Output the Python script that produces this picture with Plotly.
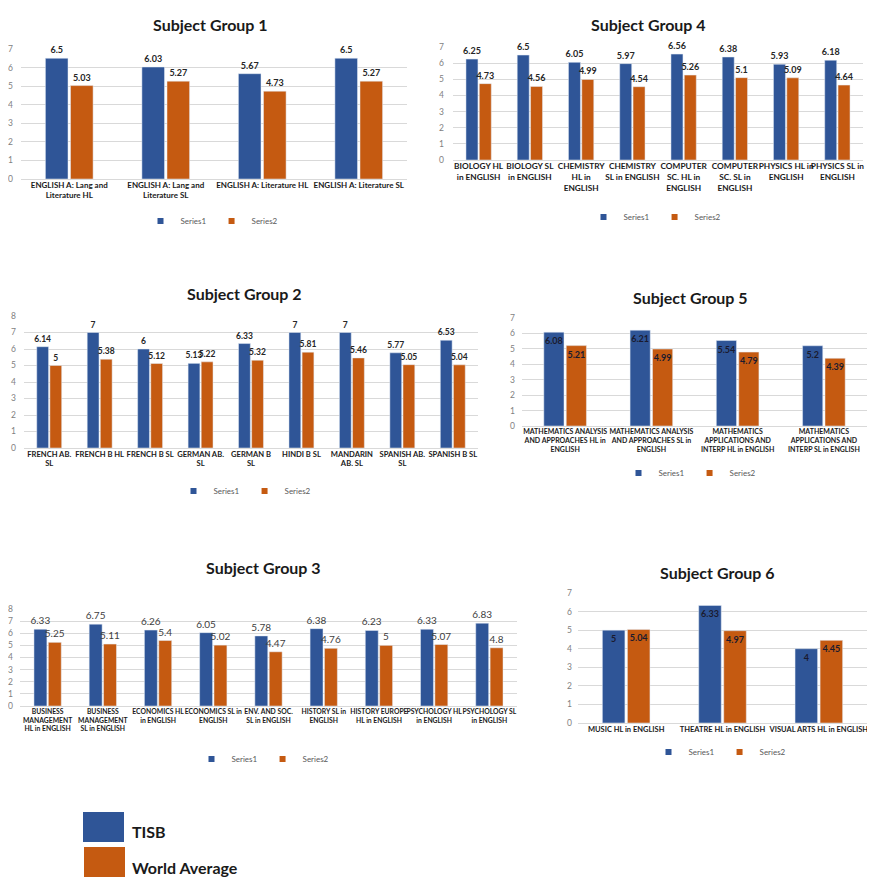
import plotly.graph_objects as go

# The page body has an 8px margin; the figure is sized to fit the 875x888 window exactly.
OFF = 8
FW, FH = 875 - 2 * OFF, 888 - 2 * OFF

# ---------------- data ----------------
g1_cats = ["ENGLISH A: Lang and<br>Literature HL", "ENGLISH A: Lang and<br>Literature SL",
           "ENGLISH A: Literature HL", "ENGLISH A: Literature SL"]
g1_tisb = [6.5, 6.03, 5.67, 6.5]
g1_world = [5.03, 5.27, 4.73, 5.27]

g4_cats = ["BIOLOGY HL<br>in ENGLISH", "BIOLOGY SL<br>in ENGLISH", "CHEMISTRY<br>HL in<br>ENGLISH",
           "CHEMISTRY<br>SL in ENGLISH", "COMPUTER<br>SC. HL in<br>ENGLISH", "COMPUTER<br>SC. SL in<br>ENGLISH",
           "PHYSICS HL in<br>ENGLISH", "PHYSICS SL in<br>ENGLISH"]
g4_tisb = [6.25, 6.5, 6.05, 5.97, 6.56, 6.38, 5.93, 6.18]
g4_world = [4.73, 4.56, 4.99, 4.54, 5.26, 5.1, 5.09, 4.64]

g2_cats = ["FRENCH AB.<br>SL", "FRENCH B HL", "FRENCH B SL", "GERMAN AB.<br>SL", "GERMAN B<br>SL",
           "HINDI B SL", "MANDARIN<br>AB. SL", "SPANISH AB.<br>SL", "SPANISH B SL"]
g2_tisb = [6.14, 7, 6, 5.13, 6.33, 7, 7, 5.77, 6.53]
g2_world = [5, 5.38, 5.12, 5.22, 5.32, 5.81, 5.46, 5.05, 5.04]

g5_cats = ["MATHEMATICS ANALYSIS<br>AND APPROACHES HL in<br>ENGLISH",
           "MATHEMATICS ANALYSIS<br>AND APPROACHES SL in<br>ENGLISH",
           "MATHEMATICS<br>APPLICATIONS AND<br>INTERP HL in ENGLISH",
           "MATHEMATICS<br>APPLICATIONS AND<br>INTERP SL in ENGLISH"]
g5_tisb = [6.08, 6.21, 5.54, 5.2]
g5_world = [5.21, 4.99, 4.79, 4.39]

g3_cats = ["BUSINESS<br>MANAGEMENT<br>HL in ENGLISH", "BUSINESS<br>MANAGEMENT<br>SL in ENGLISH",
           "ECONOMICS HL<br>in ENGLISH", "ECONOMICS SL in<br>ENGLISH", "ENV. AND SOC.<br>SL in ENGLISH",
           "HISTORY SL in<br>ENGLISH", "HISTORY EUROPE<br>HL in ENGLISH", "PSYCHOLOGY HL<br>in ENGLISH",
           "PSYCHOLOGY SL<br>in ENGLISH"]
g3_tisb = [6.33, 6.75, 6.26, 6.05, 5.78, 6.38, 6.23, 6.33, 6.83]
g3_world = [5.25, 5.11, 5.4, 5.02, 4.47, 4.76, 5, 5.07, 4.8]

g6_cats = ["MUSIC HL in ENGLISH", "THEATRE HL in ENGLISH", "VISUAL ARTS HL in ENGLISH"]
g6_tisb = [5, 6.33, 4]
g6_world = [5.04, 4.97, 4.45]

series_names = ["Series1", "Series2"]
titles = ["Subject Group 1", "Subject Group 4", "Subject Group 2",
          "Subject Group 5", "Subject Group 3", "Subject Group 6"]
legend_labels = ["TISB", "World Average"]

BLUE = "#2F5597"
ORANGE = "#C55A11"
FONT = "Lato"

# ---------------- layout of panels (window pixel boxes) ----------------
panels = [
    dict(cats=g1_cats, s1=g1_tisb, s2=g1_world, x=(21, 407), y=(179, 49), ymax=7,
         title=(210, 25), leg=(212, 221), inside=False, bold=True, standoff=7, xfs=8, dfs=9),
    dict(cats=g4_cats, s1=g4_tisb, s2=g4_world, x=(453, 863), y=(160, 47), ymax=7,
         title=(648, 25), leg=(655, 217), inside=False, bold=True, standoff=8, xfs=8.3, dfs=9),
    dict(cats=g2_cats, s1=g2_tisb, s2=g2_world, x=(24, 478), y=(448, 316), ymax=8,
         title=(245, 293), leg=(245, 491), inside=False, bold=True, standoff=7, xfs=7.6, dfs=8.5),
    dict(cats=g5_cats, s1=g5_tisb, s2=g5_world, x=(522, 867), y=(426, 318), ymax=7,
         title=(690, 298), leg=(690, 473), inside=True, bold=True, standoff=6, xfs=7, dfs=9),
    dict(cats=g3_cats, s1=g3_tisb, s2=g3_world, x=(20, 517), y=(706, 609), ymax=8,
         title=(263, 567), leg=(263, 759), inside=False, bold=False, standoff=6, xfs=6.8, dfs=10),
    dict(cats=g6_cats, s1=g6_tisb, s2=g6_world, x=(578, 867), y=(723, 593), ymax=7,
         title=(717, 572), leg=(720, 752), inside=True, bold=True, standoff=5, xfs=7.5, dfs=9),
]

def px(x):
    return (x - OFF) / FW

def py(y):
    return 1 - (y - OFF) / FH

fig = go.Figure()
layout = {}
annotations = []

for i, p in enumerate(panels, 1):
    sfx = "" if i == 1 else str(i)
    xa, ya, lg = "x" + sfx, "y" + sfx, "legend" + sfx
    for vals, name, col in ((p["s1"], series_names[0], BLUE), (p["s2"], series_names[1], ORANGE)):
        if p["inside"]:
            tp = dict(textposition="inside", insidetextanchor="end", textangle=0,
                      constraintext="none",
                      textfont=dict(family=FONT, size=p["dfs"], color="#1a1a2e", weight="bold"))
        else:
            tp = dict(textposition="outside", textangle=0, constraintext="none",
                      textfont=dict(family=FONT, size=p["dfs"],
                                    color="#262626" if p["bold"] else "#404040",
                                    weight="bold" if p["bold"] else "normal"))
        fig.add_trace(go.Bar(x=p["cats"], y=vals, name=name, marker_color=col,
                             xaxis=xa, yaxis=ya, showlegend=False, texttemplate="%{y}",
                             cliponaxis=False, **tp))
    # small square legend entries (Excel-style)
    for name, col in ((series_names[0], BLUE), (series_names[1], ORANGE)):
        fig.add_trace(go.Scatter(x=[None], y=[None], mode="markers", name=name,
                                 marker=dict(symbol="square", size=6, color=col),
                                 xaxis=xa, yaxis=ya, legend=lg, showlegend=True))
    layout["xaxis" + sfx] = dict(domain=[px(p["x"][0]), px(p["x"][1])], anchor=ya,
                                 showgrid=False, showline=False, zeroline=False,
                                 tickangle=0, ticks="", fixedrange=True, automargin=False,
                                 tickfont=dict(family=FONT, size=p["xfs"], color="#1a1a1a",
                                               weight="bold"))
    layout["yaxis" + sfx] = dict(domain=[py(p["y"][0]), py(p["y"][1])], anchor=xa,
                                 range=[0, p["ymax"]], dtick=1, showgrid=True,
                                 gridcolor="#d9d9d9", gridwidth=1, zeroline=True,
                                 zerolinecolor="#d9d9d9", zerolinewidth=1, showline=False,
                                 ticks="", ticklabelstandoff=p["standoff"], automargin=False,
                                 fixedrange=True,
                                 tickfont=dict(family=FONT, size=8.5, color="#7f7f7f"))
    layout[lg] = dict(orientation="h", x=px(p["leg"][0]), y=py(p["leg"][1]),
                      xanchor="center", yanchor="middle", bgcolor="rgba(0,0,0,0)",
                      font=dict(family=FONT, size=8, color="#595959"),
                      itemwidth=30, tracegroupgap=0, itemsizing="trace")
    annotations.append(dict(text="<b>" + titles[i - 1] + "</b>", x=px(p["title"][0]),
                            y=py(p["title"][1]), xref="paper", yref="paper",
                            xanchor="center", yanchor="middle", showarrow=False,
                            font=dict(family=FONT, size=16, color="#1a1a1a")))

# main legend (TISB / World Average)
shapes = [
    dict(type="rect", xref="paper", yref="paper", x0=px(83), x1=px(124), y0=py(842), y1=py(812),
         fillcolor=BLUE, line=dict(width=0)),
    dict(type="rect", xref="paper", yref="paper", x0=px(84), x1=px(125), y0=py(877), y1=py(847),
         fillcolor=ORANGE, line=dict(width=0)),
]
annotations.append(dict(text="<b>" + legend_labels[0] + "</b>", x=px(130), y=py(831),
                        xref="paper", yref="paper", xanchor="left", yanchor="middle",
                        showarrow=False, font=dict(family=FONT, size=16, color="#1a1a1a")))
annotations.append(dict(text="<b>" + legend_labels[1] + "</b>", x=px(130), y=py(867),
                        xref="paper", yref="paper", xanchor="left", yanchor="middle",
                        showarrow=False, font=dict(family=FONT, size=16, color="#1a1a1a")))

fig.update_layout(width=FW, height=FH, margin=dict(l=0, r=0, t=0, b=0, autoexpand=False),
                  autosize=False, paper_bgcolor="white", plot_bgcolor="white", barmode="group",
                  bargap=0.48, bargroupgap=0.1, annotations=annotations, shapes=shapes,
                  showlegend=True, **layout)

fig.write_html("out.html")
